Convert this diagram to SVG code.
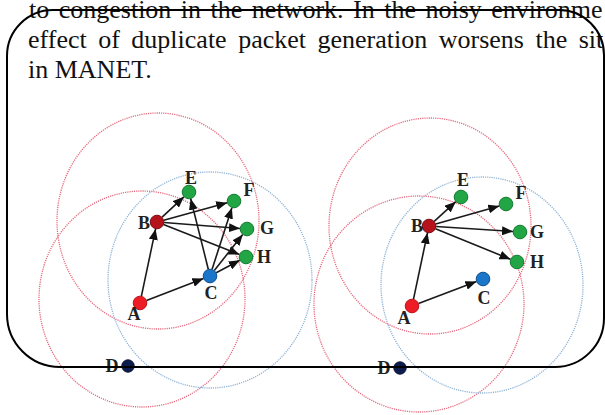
<svg xmlns="http://www.w3.org/2000/svg" width="605" height="415" viewBox="0 0 605 415">
<defs>
<style>
.para{font-family:"Liberation Serif","Times New Roman",serif;font-size:26px;fill:#111}
.lbl{font-family:"Liberation Serif","Times New Roman",serif;font-size:18px;font-weight:bold;fill:#222;text-anchor:middle}
.rr{fill:none;stroke:#e5687e;stroke-width:1.3;stroke-dasharray:1.2 1}
.rb{fill:none;stroke:#8fb3d6;stroke-width:1.3;stroke-dasharray:1.2 1}
.edge{stroke:#1a1a1a;stroke-width:1.6;fill:none;marker-end:url(#ah)}
.nA{fill:#ee1c24;stroke:#b8141a;stroke-width:1}
.nB{fill:#b5121b;stroke:#7a0c12;stroke-width:1}
.nG{fill:#22a645;stroke:#137a30;stroke-width:1}
.nC{fill:#1b75c9;stroke:#0e4f8e;stroke-width:1}
.nD{fill:#0d1c4d;stroke:#081233;stroke-width:1}
.frame{fill:none;stroke:#000;stroke-width:2}
</style>
<marker id="ah" markerUnits="userSpaceOnUse" markerWidth="11" markerHeight="9" refX="11" refY="4.5" orient="auto">
<path d="M0,0 L11,4.5 L0,9 z" fill="#111"/>
</marker>
</defs>
<rect width="605" height="415" fill="#fff"/>
<g id="text">
<text class="para" x="29" y="18" word-spacing="3">to congestion in the network. In the noisy environme</text>
<text class="para" x="28" y="48" word-spacing="5">effect of duplicate packet generation worsens the sit</text>
<text class="para" x="28" y="78">in MANET.</text>
</g>
<g id="ranges">
<ellipse class="rr" cx="158" cy="221" rx="101" ry="108"/>
<ellipse class="rr" cx="142" cy="299" rx="103" ry="108"/>
<ellipse class="rb" cx="210" cy="280" rx="102" ry="108"/>
<ellipse class="rr" cx="430" cy="226" rx="101" ry="108"/>
<ellipse class="rr" cx="419" cy="304" rx="105" ry="108"/>
<ellipse class="rb" cx="482" cy="285" rx="101" ry="108"/>
</g>
<g id="connectors">
<line class="edge" x1="141.4" y1="296.1" x2="155.6" y2="228.9"/>
<line class="edge" x1="146.5" y1="300.5" x2="203.5" y2="278.5"/>
<line class="edge" x1="162.1" y1="217.2" x2="183.9" y2="196.8"/>
<line class="edge" x1="163.8" y1="220.2" x2="227.2" y2="202.8"/>
<line class="edge" x1="164" y1="222.5" x2="240" y2="228.5"/>
<line class="edge" x1="163.5" y1="224.6" x2="239.5" y2="254.4"/>
<line class="edge" x1="208.3" y1="269.2" x2="190.7" y2="198.8"/>
<line class="edge" x1="212.1" y1="269.3" x2="231.9" y2="207.7"/>
<line class="edge" x1="214.3" y1="270.5" x2="242.7" y2="234.5"/>
<line class="edge" x1="216.2" y1="272.7" x2="239.8" y2="260.3"/>
<line class="edge" x1="413.5" y1="299.2" x2="427.5" y2="232.8"/>
<line class="edge" x1="418.5" y1="303.5" x2="476.5" y2="281.5"/>
<line class="edge" x1="434.2" y1="221.3" x2="455.8" y2="201.7"/>
<line class="edge" x1="435.7" y1="224.1" x2="499.3" y2="205.9"/>
<line class="edge" x1="436" y1="226.5" x2="513" y2="231.5"/>
<line class="edge" x1="435.5" y1="228.7" x2="510.5" y2="259.3"/>
</g>
<g id="L-A"><circle class="nA" cx="140" cy="303" r="6.8"/><text class="lbl" x="134" y="320">A</text></g>
<g id="L-B"><circle class="nB" cx="157" cy="222" r="6.8"/><text class="lbl" x="144" y="229">B</text></g>
<g id="L-C"><circle class="nC" cx="210" cy="276" r="6.8"/><text class="lbl" x="211" y="299">C</text></g>
<g id="L-D"><circle class="nD" cx="128" cy="366" r="6.2"/><text class="lbl" x="112" y="372">D</text></g>
<g id="L-E"><circle class="nG" cx="189" cy="192" r="6.8"/><text class="lbl" x="191" y="184">E</text></g>
<g id="L-F"><circle class="nG" cx="234" cy="201" r="6.8"/><text class="lbl" x="249" y="196">F</text></g>
<g id="L-G"><circle class="nG" cx="247" cy="229" r="6.8"/><text class="lbl" x="267" y="234">G</text></g>
<g id="L-H"><circle class="nG" cx="246" cy="257" r="6.8"/><text class="lbl" x="264" y="263">H</text></g>
<g id="R-A"><circle class="nA" cx="412" cy="306" r="6.8"/><text class="lbl" x="404" y="324">A</text></g>
<g id="R-B"><circle class="nB" cx="429" cy="226" r="6.8"/><text class="lbl" x="417" y="232">B</text></g>
<g id="R-C"><circle class="nC" cx="483" cy="279" r="6.8"/><text class="lbl" x="484" y="304">C</text></g>
<g id="R-D"><circle class="nD" cx="400" cy="368" r="6.2"/><text class="lbl" x="384" y="374">D</text></g>
<g id="R-E"><circle class="nG" cx="461" cy="197" r="6.8"/><text class="lbl" x="463" y="186">E</text></g>
<g id="R-F"><circle class="nG" cx="506" cy="204" r="6.8"/><text class="lbl" x="521" y="199">F</text></g>
<g id="R-G"><circle class="nG" cx="520" cy="232" r="6.8"/><text class="lbl" x="537" y="238">G</text></g>
<g id="R-H"><circle class="nG" cx="517" cy="262" r="6.8"/><text class="lbl" x="537" y="268">H</text></g>
<path id="frame" class="frame" d="M7,56 A46,46 0 0 1 53,10 L559,10 A45,45 0 0 1 604,55 L604,318 A49,49 0 0 1 555,367 L60,367 A53,53 0 0 1 7,314 Z"/>
</svg>
